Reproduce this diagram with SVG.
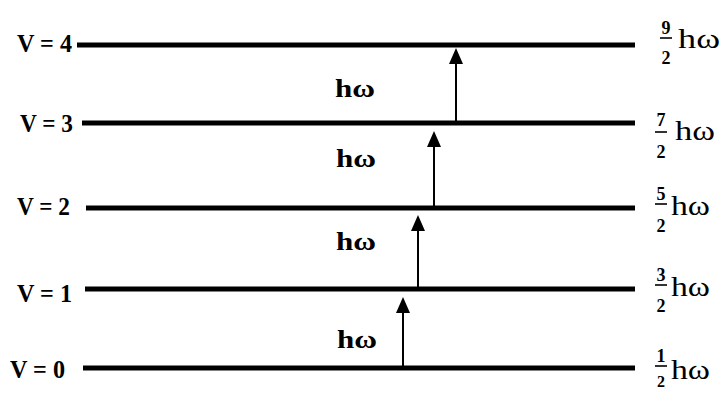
<svg xmlns="http://www.w3.org/2000/svg" width="721" height="394" viewBox="0 0 721 394">
<defs>
<style>
.lvl{stroke:#000;stroke-width:5;fill:none}
.arr{stroke:#000;stroke-width:2;fill:none;marker-end:url(#ah)}
.vl{font-family:"Liberation Serif","Times New Roman",serif;font-weight:bold;font-size:25px;fill:#000}
.hw{font-family:"Liberation Serif","Times New Roman",serif;font-weight:bold;font-size:25px;fill:#000}
.en{font-family:"Liberation Serif","Times New Roman",serif;font-size:27px;fill:#000}
.fr{font-family:"Liberation Serif","Times New Roman",serif;font-weight:bold;font-size:18px;fill:#000;text-anchor:middle}
.bar{stroke:#000;stroke-width:1.6}
</style>
<marker id="ah" markerUnits="userSpaceOnUse" markerWidth="16" markerHeight="14" refX="8" refY="7" orient="auto">
<path d="M0,0 L16,7 L0,14 Z" fill="#000"/>
</marker>
</defs>
<rect width="721" height="394" fill="#fff"/>
<g id="level-4">
<line class="lvl" x1="77" y1="45" x2="635" y2="45"/>
<text class="vl" x="17" y="52" textLength="55" lengthAdjust="spacingAndGlyphs">V = 4</text>
<text class="fr" x="666" y="34">9</text>
<line class="bar" x1="660" y1="38" x2="672" y2="38"/>
<text class="fr" x="666" y="64">2</text>
<text class="en" x="678" y="48" textLength="42" lengthAdjust="spacingAndGlyphs">hω</text>
</g>
<g id="level-3">
<line class="lvl" x1="82" y1="123" x2="635" y2="123"/>
<text class="vl" x="20" y="132" textLength="53" lengthAdjust="spacingAndGlyphs">V = 3</text>
<text class="fr" x="661" y="126">7</text>
<line class="bar" x1="655" y1="132" x2="667" y2="132"/>
<text class="fr" x="661" y="158">2</text>
<text class="en" x="675" y="140" textLength="40" lengthAdjust="spacingAndGlyphs">hω</text>
</g>
<g id="level-2">
<line class="lvl" x1="86" y1="208" x2="635" y2="208"/>
<text class="vl" x="17" y="215" textLength="53" lengthAdjust="spacingAndGlyphs">V = 2</text>
<text class="fr" x="661" y="200">5</text>
<line class="bar" x1="655" y1="204" x2="667" y2="204"/>
<text class="fr" x="661" y="232">2</text>
<text class="en" x="671" y="215" textLength="39" lengthAdjust="spacingAndGlyphs">hω</text>
</g>
<g id="level-1">
<line class="lvl" x1="85" y1="289" x2="635" y2="289"/>
<text class="vl" x="17" y="302" textLength="55" lengthAdjust="spacingAndGlyphs">V = 1</text>
<text class="fr" x="661" y="281">3</text>
<line class="bar" x1="655" y1="285" x2="667" y2="285"/>
<text class="fr" x="661" y="312">2</text>
<text class="en" x="671" y="296" textLength="39" lengthAdjust="spacingAndGlyphs">hω</text>
</g>
<g id="level-0">
<line class="lvl" x1="83" y1="368" x2="635" y2="368"/>
<text class="vl" x="10" y="378" textLength="55" lengthAdjust="spacingAndGlyphs">V = 0</text>
<text class="fr" x="661" y="362">1</text>
<line class="bar" x1="655" y1="366" x2="667" y2="366"/>
<text class="fr" x="661" y="387" style="font-size:16px">2</text>
<text class="en" x="671" y="379" textLength="39" lengthAdjust="spacingAndGlyphs">hω</text>
</g>
<g id="quanta">
<text class="hw" x="335" y="97" textLength="40" lengthAdjust="spacingAndGlyphs">hω</text>
<text class="hw" x="336" y="167" textLength="40" lengthAdjust="spacingAndGlyphs">hω</text>
<text class="hw" x="336" y="250" textLength="40" lengthAdjust="spacingAndGlyphs">hω</text>
<text class="hw" x="337" y="348" textLength="40" lengthAdjust="spacingAndGlyphs">hω</text>
</g>
<g id="connectors">
<line class="arr" x1="456" y1="121" x2="456" y2="56"/>
<line class="arr" x1="434" y1="206" x2="434" y2="139"/>
<line class="arr" x1="418" y1="287" x2="418" y2="223"/>
<line class="arr" x1="403" y1="366" x2="403" y2="305"/>
</g>
</svg>
